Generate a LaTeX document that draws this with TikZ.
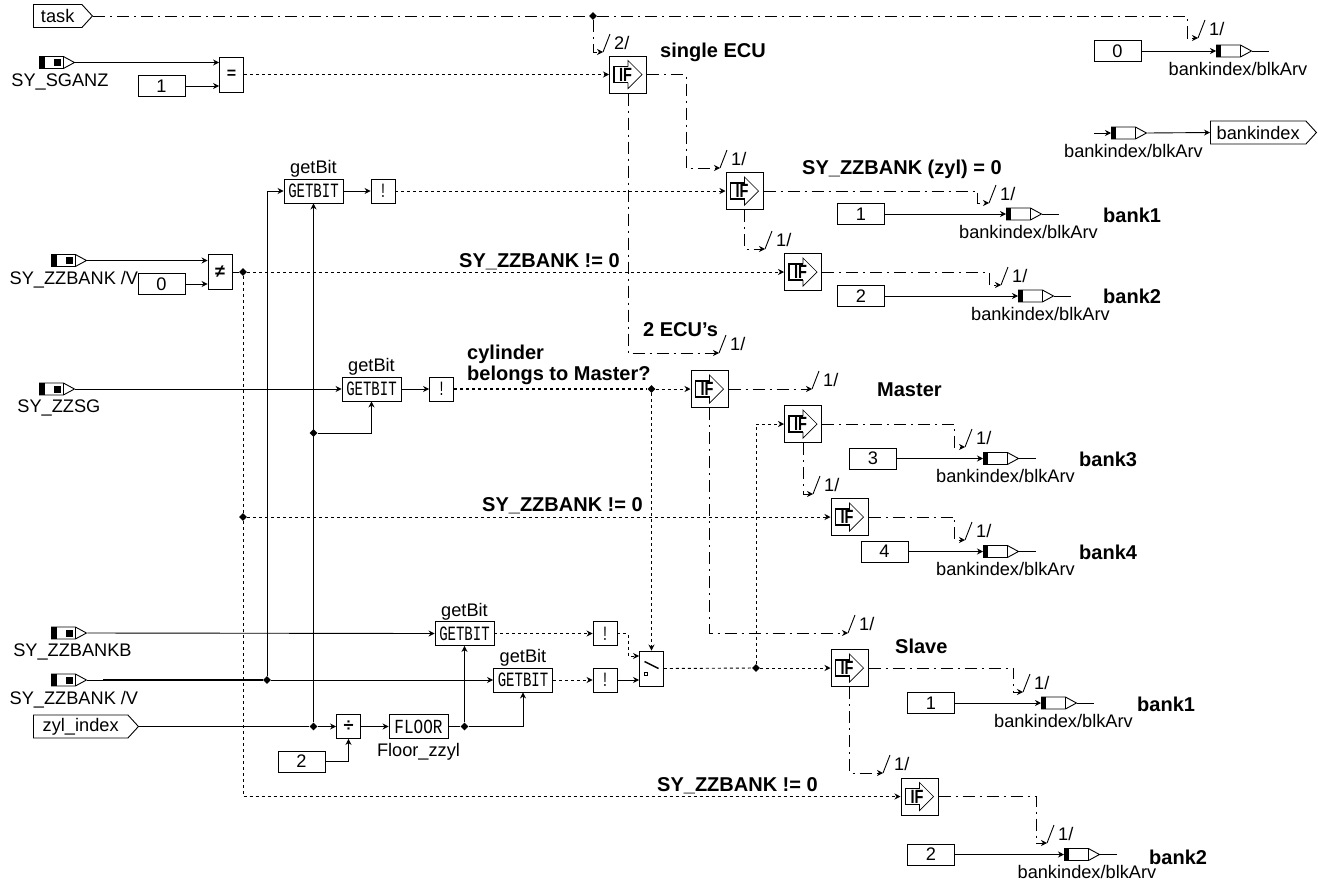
\documentclass[tikz,border=0pt]{standalone}
\usepackage{graphicx}
\usepackage{fontspec}
\setmainfont{Liberation Sans}
\setmonofont{Liberation Mono}
\usetikzlibrary{arrows.meta, positioning, shapes.geometric, shapes.symbols}
\newcommand{\iftxt}{\scalebox{.8}[1.05]{\textbf{IF}}\kern5pt}
\newcommand{\gettxt}{\scalebox{1}[1.45]{\ttfamily\fontsize{14}{14}\selectfont GETBIT}}
\newcommand{\floortxt}{\scalebox{1}[1.25]{\ttfamily\fontsize{16}{16}\selectfont FLOOR}}
\newcommand{\nottxt}{\scalebox{1}[1.45]{\ttfamily\fontsize{14}{14}\selectfont !}}

\begin{document}
\begin{tikzpicture}[
    x=1pt, y=-1pt,
    node distance=4.5pt,
    every node/.style={font=\fontsize{18.2}{20}\selectfont},
    wire/.style={line width=0.9pt, -{Stealth[length=6pt,width=6pt]}},
    plainwire/.style={line width=0.9pt},
    boolwire/.style={line width=0.9pt, dash pattern=on 3pt off 3pt, -{Stealth[length=6pt,width=6pt]}},
    ctrlwire/.style={line width=0.9pt, dash pattern=on 12pt off 5pt on 2pt off 5pt, -{Stealth[length=6pt,width=6pt]}},
    constblock/.style={rectangle, draw, line width=0.9pt, inner sep=0pt, minimum width=47pt, minimum height=21pt},
    getblock/.style={rectangle, draw, line width=0.9pt, inner sep=0pt, minimum width=59pt, minimum height=24pt},
    notblock/.style={rectangle, draw, line width=0.9pt, inner sep=0pt, minimum width=24pt, minimum height=24pt},
    opblock/.style={rectangle, draw, line width=0.9pt, inner sep=0pt, minimum width=24pt, minimum height=35pt},
    ifblock/.style={rectangle, draw, line width=1pt, inner sep=0pt, minimum width=37pt, minimum height=37pt,
        path picture={
            \draw[line width=0.7pt] (path picture bounding box.center) ++(0,-8) -- ++(0,-6)
                -- ++(14,14) -- ++(-14,14) -- ++(0,-6);
            \draw[line width=1.3pt] (path picture bounding box.center) ++(0,-8) -- ++(-14,0) -- ++(0,16) -- ++(14,0);
        }},
    swblock/.style={opblock,
        path picture={
            \draw[line width=1.5pt] (path picture bounding box.center) ++(-7,-7) -- ++(14,7);
            \draw[line width=0.8pt] (path picture bounding box.center) ++(-7,4) rectangle ++(3,3);
        }},
    port/.style={shape=signal, signal to=east, signal pointer angle=95, draw, line width=0.9pt,
        anchor=west, inner sep=0pt, minimum width=59pt, minimum height=23pt},
    msgin/.style={shape=signal, signal to=east, signal pointer angle=57, draw, line width=0.9pt,
        anchor=west, inner sep=0pt, minimum width=35pt, minimum height=12pt,
        path picture={
            \fill (path picture bounding box.north west) rectangle ([xshift=5.5pt]path picture bounding box.south west);
            \fill ([xshift=14.5pt,yshift=-2.5pt]path picture bounding box.north west) rectangle ([xshift=22pt,yshift=2.5pt]path picture bounding box.south west);
            \draw ([xshift=24pt]path picture bounding box.north west) -- ([xshift=24pt]path picture bounding box.south west);
        }},
    msgout/.style={shape=signal, signal to=east, signal pointer angle=57, draw, line width=0.9pt,
        anchor=west, inner sep=0pt, minimum width=35pt, minimum height=12pt,
        path picture={
            \fill (path picture bounding box.north west) rectangle ([xshift=5pt]path picture bounding box.south west);
            \draw ([xshift=24pt]path picture bounding box.north west) -- ([xshift=24pt]path picture bounding box.south west);
        }},
    junction/.style={diamond, fill, inner sep=0pt, minimum size=8pt},
    caption/.style={inner sep=0pt},
    headline/.style={font=\bfseries\fontsize{20}{21}\selectfont, anchor=west, inner sep=0pt, align=left},
    tick/.pic={
        \coordinate (-c) at (0,0);
        \draw[line width=0.9pt] (-c) -- (7,-18);
        \node[anchor=west, inner sep=0pt] (-lab) at (11,-9) {#1};
    }
]
\useasboundingbox (0,0) rectangle (1318,884);

% inputs
\node[port] (task) at (33,16) {task};
\node[msgin] (sganz) at (39,62.5) {};
\node[caption, below=of sganz, xshift=8.5pt] (sganzlab) {SY\_SGANZ};
\node[msgin] (zzbank) at (51,260.5) {};
\node[caption, below=of zzbank, xshift=10.5pt] (zzbanklab) {SY\_ZZBANK /V};
\node[msgin] (zzsg) at (39,389) {};
\node[caption, below=of zzsg, xshift=7.5pt] (zzsglab) {SY\_ZZSG};
\node[msgin] (zzbankb) at (51,633) {};
\node[caption, below=of zzbankb, xshift=9pt] (zzbankblab) {SY\_ZZBANKB};
\node[msgin] (zzbankc) at (51,680) {};
\node[caption, below=of zzbankc, xshift=10.5pt] (zzbankclab) {SY\_ZZBANK /V};
\node[port, minimum width=105pt] (zylindex) at (33,726.5) {zyl\_index};

% constants
\node[constblock] (cone) at (161.5,86) {1};
\node[constblock] (czero) at (161.5,284) {0};
\node[constblock] (ctwo) at (301.5,761.5) {2};
\node[constblock] (ctop) at (1117.5,51) {0};
\node[constblock] (cbanka) at (861,214) {1};
\node[constblock] (cbankb) at (861,296) {2};
\node[constblock] (cbankc) at (873,458.5) {3};
\node[constblock] (cbankd) at (884.5,551.5) {4};
\node[constblock] (cbanke) at (931,703) {1};
\node[constblock] (cbankf) at (931,854.5) {2};

% operators
\node[opblock] (eqop) at (231.5,74.5) {\fontsize{16}{16}\selectfont\textbf{=}};
\node[opblock] (neop) at (220,272) {\fontsize{18}{18}\selectfont\textbf{≠}};
\node[notblock] (diva) at (348.5,726.5) {\textbf{÷}};
\node[getblock] (flooring) at (418.5,726.5) {\floortxt};
\node[caption, below=4pt of flooring] (flooringlab) {Floor\_zzyl};
\node[getblock] (gba) at (313.5,191) {\gettxt};
\node[caption, above=1pt of gba] (gbalab) {getBit};
\node[getblock] (gbb) at (371.5,389) {\gettxt};
\node[caption, above=1pt of gbb] (gbblab) {getBit};
\node[getblock] (gbc) at (464.5,633.5) {\gettxt};
\node[caption, above=1pt of gbc] (gbclab) {getBit};
\node[getblock] (gbd) at (523,680) {\gettxt};
\node[caption, above=1pt of gbd] (gbdlab) {getBit};
\node[notblock] (nota) at (383,191) {\nottxt};
\node[notblock] (notb) at (441.5,389) {\nottxt};
\node[notblock] (notc) at (605,633.5) {\nottxt};
\node[notblock] (notd) at (605,680) {\nottxt};
\node[swblock] (swt) at (651.5,668.5) {};

% if blocks
\node[ifblock] (ifa) at (628,74.5) {\iftxt};
\node[ifblock] (ifb) at (744.5,191) {\iftxt};
\node[ifblock] (ifc) at (803,272) {\iftxt};
\node[ifblock] (ifd) at (709.5,389) {\iftxt};
\node[ifblock] (ife) at (803,424) {\iftxt};
\node[ifblock] (iff) at (849.5,517) {\iftxt};
\node[ifblock] (ifg) at (849.5,668) {\iftxt};
\node[ifblock] (ifh) at (919.5,796.5) {\iftxt};

% bankindex messages
\node[msgout] (mtop) at (1216,51) {};
\node[caption, below=of mtop, xshift=9.5pt] (mtoplab) {bankindex/blkArv};
\node[msgout] (mread) at (1111,133) {};
\node[caption, below=of mread, xshift=10pt] (mreadlab) {bankindex/blkArv};
\node[port, minimum width=106pt] (bankindex) at (1210,132.5) {bankindex};
\node[msgout] (ma) at (1006,214) {};
\node[caption, below=of ma, xshift=10pt] (malab) {bankindex/blkArv};
\node[msgout] (mb) at (1018,296) {};
\node[caption, below=of mb, xshift=10pt] (mblab) {bankindex/blkArv};
\node[msgout] (mc) at (983,458.5) {};
\node[caption, below=of mc, xshift=10pt] (mclab) {bankindex/blkArv};
\node[msgout] (md) at (983,551.5) {};
\node[caption, below=of md, xshift=10pt] (mdlab) {bankindex/blkArv};
\node[msgout] (me) at (1041,703) {};
\node[caption, below=of me, xshift=10pt] (melab) {bankindex/blkArv};
\node[msgout] (mf) at (1064,854.5) {};
\node[caption, below=of mf, xshift=10.5pt] (mflab) {bankindex/blkArv};

% headlines
\node[headline] (single) at (660,52) {single ECU};
\node[headline] (zylzero) at (802,169) {SY\_ZZBANK (zyl) = 0};
\node[headline] (nea) at (459,262) {SY\_ZZBANK != 0};
\node[headline] (ecus) at (643,330) {2 ECU's};
\node[headline] (belongs) at (467,364.5) {cylinder\\belongs to Master?};
\node[headline] (master) at (877,390) {Master};
\node[headline] (neb) at (482,506) {SY\_ZZBANK != 0};
\node[headline] (slave) at (895,646) {Slave};
\node[headline] (nec) at (657,786) {SY\_ZZBANK != 0};
\node[headline] (banka) at (1103,215) {bank1};
\node[headline] (bankb) at (1103,296) {bank2};
\node[headline] (bankc) at (1079,459) {bank3};
\node[headline] (bankd) at (1079,552) {bank4};
\node[headline] (banke) at (1137,704) {bank1};
\node[headline] (bankf) at (1149,857) {bank2};

% junctions
\node[junction] (jtask) at (593,16) {};
\node[junction] (jne) at (243,272) {};
\node[junction] (jbelow) at (243,517) {};
\node[junction] (jbank) at (267,680) {};
\node[junction] (jzyl) at (313.5,726.5) {};
\node[junction] (jget) at (313.5,433) {};
\node[junction] (jfloor) at (464.5,726.5) {};
\node[junction] (jmaster) at (651.5,389) {};
\node[junction] (jswt) at (756,668) {};

% enable ticks
\pic (ta) at (1198,38) {tick=1/};
\pic (tb) at (603,52) {tick=2/};
\pic (tc) at (720,168) {tick=1/};
\pic (td) at (989,203) {tick=1/};
\pic (te) at (765,249) {tick=1/};
\pic (tf) at (1001,285) {tick=1/};
\pic (tg) at (719,353) {tick=1/};
\pic (th) at (812,389) {tick=1/};
\pic (ti) at (965,447) {tick=1/};
\pic (tj) at (813,494) {tick=1/};
\pic (tk) at (965,540) {tick=1/};
\pic (tl) at (848,633) {tick=1/};
\pic (tm) at (1023,692) {tick=1/};
\pic (tn) at (883,773) {tick=1/};
\pic (to) at (1047,843) {tick=1/};

% data wires
\draw[wire] (sganz.east) -- (sganz.east -| eqop.west);
\draw[wire] (cone.east) -- (cone.east -| eqop.west);
\draw[wire] (zzbank.east) -- (zzbank.east -| neop.west);
\draw[wire] (czero.east) -- (czero.east -| neop.west);
\draw[plainwire] (neop.east) -- (jne);
\draw[wire] (jbank) |- (gba.west);
\draw[wire] (jzyl) -- (gba.south);
\draw[wire] (gba.east) -- (nota.west);
\draw[wire] (zzsg.east) -- (gbb.west);
\draw[wire] (jget) -| (gbb.south);
\draw[wire] (gbb.east) -- (notb.west);
\draw[wire] (zzbankb.east) -- (gbc.west);
\draw[plainwire] (zzbankc.east) -- (jbank);
\draw[plainwire, line width=1.7pt] (103,680) -- (jbank);
\draw[wire] (jbank) -- (gbd.west);
\draw[plainwire] (zylindex.east) -- (jzyl);
\draw[wire] (jzyl) -- (diva.west);
\draw[wire] (diva.east) -- (flooring.west);
\draw[plainwire] (flooring.east) -- (jfloor);
\draw[wire] (jfloor) -- (gbc.south);
\draw[wire] (jfloor) -| (gbd.south);
\draw[wire] (ctwo.east) -| (diva.south);

% bool wires
\draw[boolwire] (eqop.east) -- (ifa.west);
\draw[boolwire] (nota.east) -- (ifb.west);
\draw[boolwire] (jne) -- (ifc.west);
\draw[boolwire, -] (jne) -- (jbelow);
\draw[boolwire] (jbelow) -- (iff.west);
\draw[boolwire] (jbelow) |- (ifh.west);
\draw[boolwire, -, line width=1.6pt] (notb.east) -- (jmaster);
\draw[boolwire] (jmaster) -- (ifd.west);
\draw[boolwire] (jmaster) -- (swt.north);
\draw[boolwire] (gbc.east) -- (notc.west);
\draw[boolwire] (gbd.east) -- (notd.west);
\draw[boolwire] (notc.east) -- ++(11,0) |- ([yshift=12.5pt]swt.west);
\draw[wire] (notd.east) -- (notd.east -| swt.west);
\draw[boolwire, -] (swt.east) -- (jswt);
\draw[boolwire] (jswt) -- (ifg.west);
\draw[boolwire] (jswt) |- (ife.west);

% control wires
\draw[ctrlwire, -] (task.east) -- (jtask);
\draw[ctrlwire] (jtask) -- ++(594,0) |- (ta-c);
\draw[ctrlwire] (jtask) |- (tb-c);
\draw[ctrlwire] (ifa.east) -- ++(39,0) |- (tc-c);
\draw[ctrlwire] (ifa.south) |- (tg-c);
\draw[ctrlwire] (ifb.east) -- ++(214,0) |- (td-c);
\draw[ctrlwire] (ifb.south) |- (te-c);
\draw[ctrlwire] (ifc.east) -- ++(167,0) |- (tf-c);
\draw[ctrlwire] (ifd.east) -- (th-c);
\draw[ctrlwire] (ifd.south) |- (tl-c);
\draw[ctrlwire] (ife.east) -- ++(132,0) |- (ti-c);
\draw[ctrlwire] (ife.south) |- (tj-c);
\draw[ctrlwire] (iff.east) -- ++(86,0) |- (tk-c);
\draw[ctrlwire] (ifg.east) -- ++(145,0) |- (tm-c);
\draw[ctrlwire] (ifg.south) |- (tn-c);
\draw[ctrlwire] (ifh.east) -- ++(98,0) |- (to-c);

% bankindex wires
\coordinate (mreadin) at (1094,133);
\draw[wire] (mreadin) -- (mread.west);
\draw[wire] (mread.east) -- (bankindex.west);
\draw[wire] (ctop.east) -- (mtop.west);
\draw[wire] (cbanka.east) -- (ma.west);
\draw[wire] (cbankb.east) -- (mb.west);
\draw[wire] (cbankc.east) -- (mc.west);
\draw[wire] (cbankd.east) -- (md.west);
\draw[wire] (cbanke.east) -- (me.west);
\draw[wire] (cbankf.east) -- (mf.west);
\draw[plainwire] (mtop.east) -- ++(17,0) coordinate (mtopend);
\draw[plainwire] (ma.east) -- ++(17,0) coordinate (maend);
\draw[plainwire] (mb.east) -- ++(17,0) coordinate (mbend);
\draw[plainwire] (mc.east) -- ++(17,0) coordinate (mcend);
\draw[plainwire] (md.east) -- ++(17,0) coordinate (mdend);
\draw[plainwire] (me.east) -- ++(17,0) coordinate (meend);
\draw[plainwire] (mf.east) -- ++(17,0) coordinate (mfend);
\end{tikzpicture}
\end{document}
